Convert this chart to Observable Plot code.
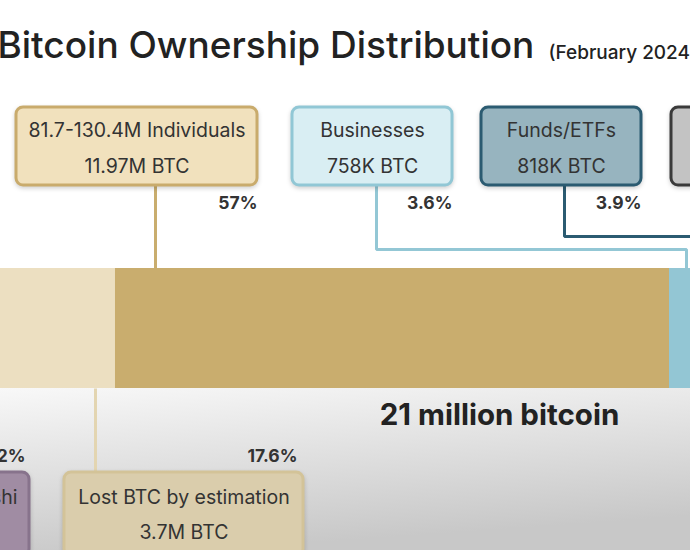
<!DOCTYPE html>
<html>
<head>
<meta charset="utf-8">
<script src="https://cdn.jsdelivr.net/npm/d3@7"></script>
<script src="https://cdn.jsdelivr.net/npm/@observablehq/plot@0.6"></script>
<style>
  html, body { margin: 0; padding: 0; background: #fff; overflow: hidden; }
  #chart svg { display: block; }
</style>
</head>
<body>
<div id="chart"></div>
<script>
// ---- data ----
const categories = ["Satoshi", "Lost BTC by estimation", "81.7-130.4M Individuals", "Businesses", "Funds/ETFs", "Governments"];
const btcHeld = ["1.1M BTC", "3.7M BTC", "11.97M BTC", "758K BTC", "818K BTC", "529K BTC"];
const sharePct = [5.2, 17.6, 57, 3.6, 3.9, 2.5];
const shareLabels = ["5.2%", "17.6%", "57%", "3.6%", "3.9%", "2.5%"];
const title = "Bitcoin Ownership Distribution";
const subtitle = "(February 2024)";
const totalLabel = "21 million bitcoin";

// ---- styles ----
const barFill   = ["#a08ca3", "#ecdfc1", "#c9ad6e", "#93c6d4", "#4f7f92", "#9a9a9a"];
const boxFill   = ["#a08ca3", "#dacdac", "#f1e1bd", "#d9eef3", "#97b4bf", "#c3c3c3"];
const boxStroke = ["#87738c", "#d3c398", "#c9ab6c", "#91c7d5", "#2b5b71", "#3a3a3a"];
const lineColor = ["#a08ca3", "#e3d5b1", "#c9ad6e", "#93c7d5", "#2b5b71", "#3a3a3a"];

// ---- layout (pixels) ----
const W = 690, H = 550;
const xDomain = [10.97, 81.96];           // visible window of the 0–100 % bar
const toX = p => xDomain[0] + p * (xDomain[1] - xDomain[0]) / W;
const layout = [
  {side: "bottom", left: -131, right: 29,  line1X: 17,  line1Anchor: "end", pctX: 25},
  {side: "bottom", left: 64,   right: 303, pctX: 297},
  {side: "top",    left: 16,   right: 257, pctX: 257},
  {side: "top",    left: 292,  right: 452, pctX: 452},
  {side: "top",    left: 481,  right: 641, pctX: 641},
  {side: "top",    left: 671,  right: 858, pctX: 852},
];
const connectors = [
  null,
  [[95, 388], [95, 472]],
  [[155, 185], [155, 268]],
  [[376, 185], [376, 249], [686, 249], [686, 268]],
  [[564, 185], [564, 236], [720, 236]],
  null
];
const bandTop = {y1: 107, y2: 185, l1: 130, l2: 166, pct: 203};
const bandBottom = {y1: 472, y2: 556, l1: 497, l2: 532, pct: 456};
const barY = [268, 388];

const rows = categories.map((name, i) => {
  const L = layout[i];
  const band = L.side === "top" ? bandTop : bandBottom;
  return {
    name, btc: btcHeld[i], share: sharePct[i], label: shareLabels[i],
    barFill: barFill[i], boxFill: boxFill[i], boxStroke: boxStroke[i],
    ...L, band, cx: (L.left + L.right) / 2
  };
});
const connPts = connectors.flatMap((c, i) => c ? c.map(([px, py]) => ({id: i, px, py, color: lineColor[i]})) : []);

const defs = () => {
  const d = d3.create("svg:defs");
  const g = d.append("linearGradient").attr("id", "bg").attr("x1", 0).attr("y1", 0).attr("x2", 0.3).attr("y2", 1);
  g.append("stop").attr("offset", "0%").attr("stop-color", "#f8f8f8");
  g.append("stop").attr("offset", "100%").attr("stop-color", "#c8c8c8");
  return d.node();
};

const chart = Plot.plot({
  width: W, height: H,
  margin: 0,
  style: {fontFamily: "Inter, 'Noto Sans', sans-serif", background: "#fff"},
  x: {domain: xDomain, axis: null},
  y: {domain: [0, H], range: [0, H], axis: null},
  color: {type: "identity"},
  marks: [
    defs,
    // lower background
    Plot.rect([0], {x1: xDomain[0], x2: xDomain[1], y1: barY[1], y2: H, fill: "url(#bg)"}),
    // connectors
    Plot.line(connPts, {x: d => toX(d.px), y: "py", z: "id", stroke: "color", strokeWidth: 3, strokeLinejoin: "miter", strokeLinecap: "butt"}),
    // stacked bar of shares
    Plot.rectX(rows, Plot.stackX({x: "share", y1: barY[0], y2: barY[1], fill: "barFill"})),
    // callout boxes
    Plot.rect(rows, {
      x1: d => toX(d.left), x2: d => toX(d.right),
      y1: d => d.band.y1, y2: d => d.band.y2,
      fill: "boxFill", stroke: "boxStroke", strokeWidth: 3, rx: 7,
      ariaDescription: "boxes"
    }),
    // box text line 1
    Plot.text(rows.filter(d => d.line1Anchor !== "end"), {
      x: d => toX(d.cx), y: d => d.band.l1, text: "name",
      fontSize: 19.5, fill: "#333", textAnchor: "middle"
    }),
    Plot.text(rows.filter(d => d.line1Anchor === "end"), {
      x: d => toX(d.line1X), y: d => d.band.l1, text: "name",
      fontSize: 19.5, fill: "#333", textAnchor: "end"
    }),
    // box text line 2
    Plot.text(rows, {
      x: d => toX(d.cx), y: d => d.band.l2, text: "btc",
      fontSize: 19.5, fill: "#333", textAnchor: "middle"
    }),
    // percent labels
    Plot.text(rows, {
      x: d => toX(d.pctX), y: d => d.band.pct, text: "label",
      fontSize: 17.5, fontWeight: 700, fill: "#333", textAnchor: "end"
    }),
    // total label
    Plot.text([totalLabel], {x: toX(499), y: 415, text: d => d, fontSize: 29.5, fontWeight: 700, fill: "#222", textAnchor: "middle"}),
    // title
    Plot.text([title], {x: toX(-3), y: 46, text: d => d, fontSize: 37, fontWeight: 500, fill: "#222", textAnchor: "start"}),
    Plot.text([subtitle], {x: toX(548), y: 52, text: d => d, fontSize: 19, fontWeight: 500, fill: "#222", textAnchor: "start"})
  ]
});

d3.select(chart).selectAll('g[aria-description="boxes"]').style("filter", "drop-shadow(0px 2px 2px rgba(0,0,0,0.18))");
document.getElementById("chart").appendChild(chart);
</script>
</body>
</html>
